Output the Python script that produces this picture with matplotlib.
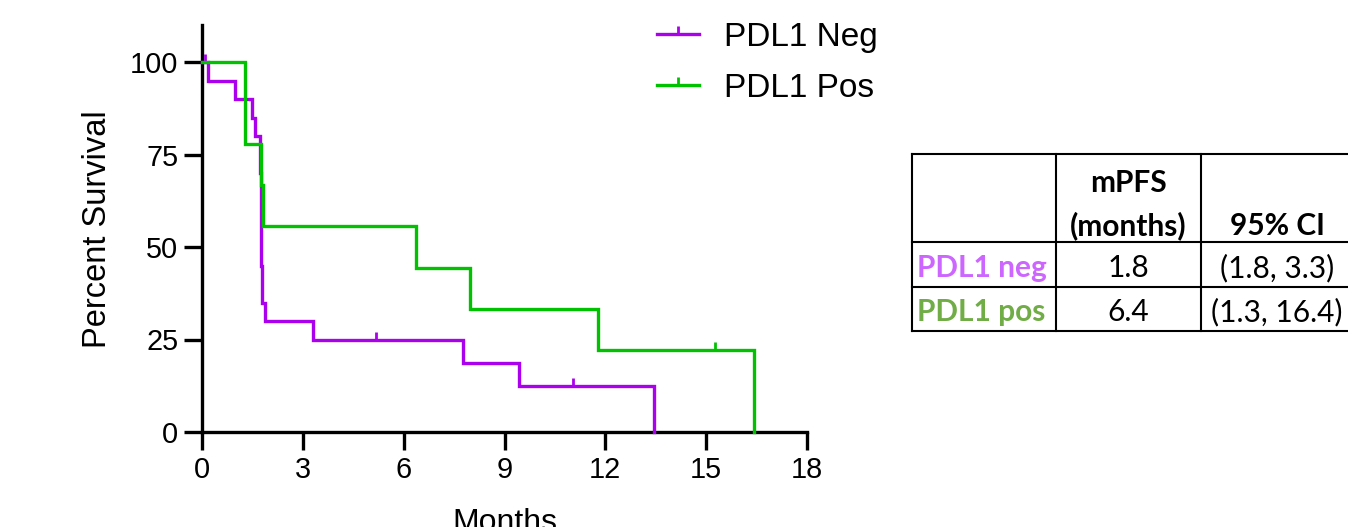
import matplotlib
matplotlib.use("Agg")
import matplotlib.pyplot as plt
import numpy as np
from matplotlib.lines import Line2D

W, H = 1348, 527

# Kaplan-Meier step data (months, percent survival)
neg_times = [0, 0.19, 0.98, 1.48, 1.58, 1.72, 1.76, 1.78, 1.87, 3.31, 7.78, 9.42, 13.45]
neg_surv = [100, 95, 90, 85, 80, 70, 45, 35, 30, 25, 18.75, 12.5, 0]
neg_censored = [0.1, 5.18, 11.03]

pos_times = [0, 1.28, 1.75, 1.80, 6.37, 7.96, 11.77, 16.43]
pos_surv = [100, 77.8, 66.7, 55.6, 44.4, 33.3, 22.2, 0]
pos_censored = [15.25]

series_labels = ["PDL1 Neg", "PDL1 Pos"]
x_ticks = [0, 3, 6, 9, 12, 15, 18]
y_ticks = [0, 25, 50, 75, 100]

# Summary table
table_header = [["", "mPFS", ""], ["", "(months)", "95% CI"]]
table_groups = ["PDL1 neg", "PDL1 pos"]
table_mpfs = ["1.8", "6.4"]
table_ci = ["(1.8, 3.3)", "(1.3, 16.4)"]

NEG_COLOR = "#AA00EE"
POS_COLOR = "#00C200"
NEG_TEXT = "#CC66FF"
POS_TEXT = "#70AD47"


def fx(px):
    return px / W


def fy(py):
    return 1 - py / H


def surv_at(times, surv, t):
    idx = np.searchsorted(times, t, side="right") - 1
    return surv[idx]


fig = plt.figure(figsize=(W / 100, H / 100), dpi=100)
ax = fig.add_axes([fx(202), fy(432), fx(807) - fx(202), fy(25) - fy(432)])

tick_mark = [(0, 0), (0, 1)]
LW = 2.4

for times, surv, cens, color, label in [
    (neg_times, neg_surv, neg_censored, NEG_COLOR, series_labels[0]),
    (pos_times, pos_surv, pos_censored, POS_COLOR, series_labels[1]),
]:
    ax.step(times, surv, where="post", color=color, lw=LW, solid_joinstyle="miter",
            clip_on=False, zorder=3)
    cy = [surv_at(times, surv, t) for t in cens]
    ax.plot(cens, cy, linestyle="none", marker=tick_mark, markersize=11,
            markeredgewidth=2.0, color=color, clip_on=False, zorder=3)

ax.set_xlim(0, 18)
ax.set_ylim(0, 110)
ax.set_xticks(x_ticks)
ax.set_yticks(y_ticks)
for s in ["top", "right"]:
    ax.spines[s].set_visible(False)
for s in ["left", "bottom"]:
    ax.spines[s].set_linewidth(2.4)
ax.tick_params(axis="both", length=13, width=2.4, labelsize=20.8, direction="out", pad=4)
for lab in ax.get_xticklabels() + ax.get_yticklabels():
    lab.set_family("Liberation Sans")

fig.text(fx(97), fy(229), "Percent Survival", rotation=90, ha="center", va="center",
         fontsize=23.5, family="Liberation Sans")
fig.text(fx(504.5), fy(508), "Months", ha="center", va="top",
         fontsize=23, family="Liberation Sans")

handles = [
    Line2D([], [], color=NEG_COLOR, lw=LW, marker=tick_mark, markersize=11, markeredgewidth=2.0),
    Line2D([], [], color=POS_COLOR, lw=LW, marker=tick_mark, markersize=11, markeredgewidth=2.0),
]
fig.legend(handles, series_labels, loc="upper left", bbox_to_anchor=(fx(627), fy(-8)),
           frameon=False, prop={"family": "Liberation Sans", "size": 24},
           handlelength=1.25, handletextpad=0.75, labelspacing=0.6, numpoints=1)

# Table grid
tl = 1.5
rows_y = [154, 242, 287, 331]
cols_x = [912, 1056, 1201]
for yv in rows_y:
    fig.add_artist(Line2D([fx(cols_x[0]), fx(1352)], [fy(yv), fy(yv)], color="black", lw=tl))
for xv in cols_x:
    fig.add_artist(Line2D([fx(xv), fx(xv)], [fy(rows_y[0]), fy(rows_y[-1])], color="black", lw=tl))

tfont = dict(family="Lato", fontsize=21.5)
col_centers = [None, 1128, 1277]
header_y = [183, 226]
for r, row in enumerate(table_header):
    for c, txt in enumerate(row):
        if txt:
            fig.text(fx(col_centers[c]), fy(header_y[r]), txt, ha="center", va="center",
                     fontweight="bold", **tfont)

row_y = [268, 312]
for i, (g, m, ci, col) in enumerate(zip(table_groups, table_mpfs, table_ci, [NEG_TEXT, POS_TEXT])):
    fig.text(fx(917), fy(row_y[i]), g, ha="left", va="center", color=col,
             fontweight="bold", **tfont)
    fig.text(fx(col_centers[1]), fy(row_y[i]), m, ha="center", va="center", **tfont)
    fig.text(fx(col_centers[2]), fy(row_y[i]), ci, ha="center", va="center", **tfont)

fig.savefig("out.png", dpi=100)
